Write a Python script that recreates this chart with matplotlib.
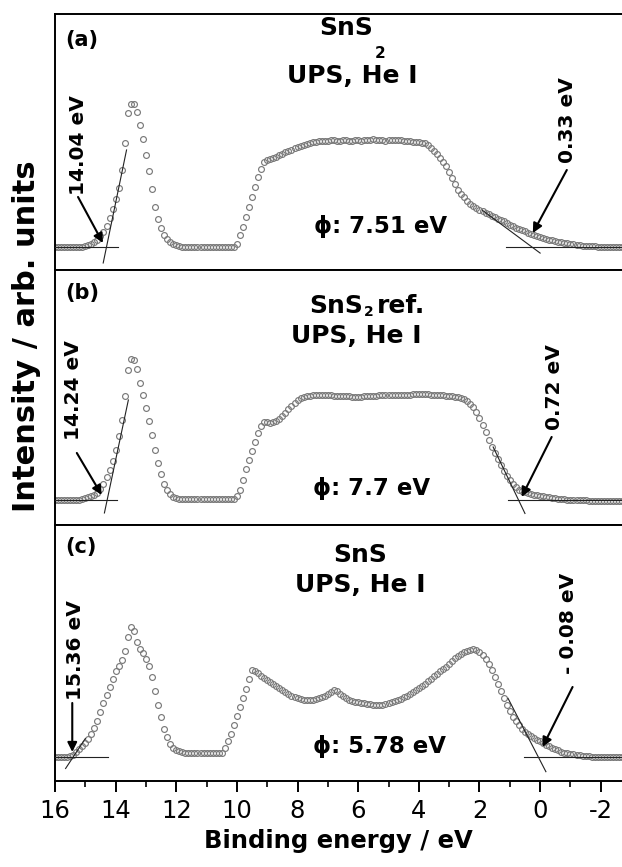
import matplotlib
matplotlib.use('Agg')
import matplotlib.pyplot as plt
import numpy as np

plt.rcParams['font.family'] = ['DejaVu Sans']

# binding energy grid (eV), 0.1 eV steps from 16.0 down to -2.7
energy = np.arange(160, -28, -1) / 10.0

# (a) SnS2
int_a = [0, 0, 0, 0, 0, 0, 0, 0, 0, 0,
         1, 1.5, 2.5, 4.5, 6.5, 10.5, 15, 21, 29, 38,
         48, 59, 77, 104, 134, 143, 143, 135, 122, 108,
         92, 76, 58, 40, 28, 19, 12, 8, 5, 3,
         1.5, 0.5, 0, 0, 0, 0, 0, 0, 0, 0,
         0, 0, 0, 0, 0, 0, 0, 0, 0, 0,
         3, 12, 20, 30, 40, 50, 60, 70, 78, 85,
         87, 88, 89, 90, 92, 93, 95, 96, 97, 99,
         100, 101, 102, 103, 104, 105, 105, 106, 106, 106,
         106, 107, 107, 106, 106, 107, 107, 106, 106, 107,
         107, 106, 107, 107, 107, 108, 107, 107, 107, 106,
         107, 107, 107, 107, 107, 106, 106, 106, 105, 105,
         105, 104, 104, 102, 99, 96, 93, 89, 85, 81,
         75, 69, 63, 57, 53, 50, 46, 43, 41, 39,
         37, 35.5, 34, 32.5, 31, 29.5, 28, 27, 25.5, 24,
         22, 20.5, 19, 17.5, 16.5, 15.5, 14, 13, 12, 11,
         10, 9, 8, 7, 6.5, 6, 5, 4.5, 4, 3.5,
         3, 2.5, 2, 1.5, 1, 1, 0.5, 0.5, 0.5, 0,
         0, 0, 0, 0, 0, 0, 0, 0]

# (b) SnS2 ref.
int_b = [0, 0, 0, 0, 0, 0, 0, 0, 0, 1,
         1.5, 2.5, 3.5, 5, 7, 10.5, 16, 23, 30, 39,
         50, 64, 80, 104, 130, 141, 140, 131, 117, 105,
         92, 79, 65, 50, 37, 26, 16, 9.5, 6, 3,
         2, 1, 0.5, 0.5, 0.5, 0.5, 0.5, 0.5, 0.5, 0.5,
         0.5, 0.5, 0.5, 0.5, 0.5, 0.5, 0.5, 0.5, 0.5, 0.5,
         4, 10, 20, 31, 40, 49, 58, 67, 74, 78,
         78, 77, 78, 79, 81, 84, 87, 91, 94, 97,
         100, 102, 103, 104, 104, 105, 105, 105, 105, 105,
         105, 105, 104, 104, 104, 104, 104, 104, 103, 103,
         103, 103, 104, 104, 104, 104, 104, 105, 105, 105,
         105, 105, 105, 105, 105, 105, 105, 105, 106, 106,
         106, 106, 106, 106, 105, 105, 105, 105, 105, 104,
         104, 104, 103, 103, 102, 101, 99, 96, 93, 88,
         82, 75, 68, 60, 53, 47, 41, 35, 29, 24,
         20, 16, 13, 10, 8.5, 7.5, 6.5, 5.5, 5, 4.5,
         4, 3.5, 3, 2.5, 2, 1.5, 1, 1, 0.5, 0,
         0, 0, -0.5, -0.5, -0.5, -0.5, -1, -1, -1, -1,
         -1.5, -1.5, -1.5, -1.5, -1.5, -1.5, -1.5, -1.5]

# (c) SnS
int_c = [0, 0, 0, 0, 0, 0.5, 2, 5, 8, 11,
         14, 18, 23, 29, 36, 45, 54, 62, 70, 78,
         86, 91, 97, 106, 120, 130, 126, 115, 108, 104,
         98, 91, 80, 66, 52, 40, 28, 20, 13, 9,
         7, 5.5, 4.5, 4, 4, 4, 4, 4, 4, 4,
         4, 4, 4, 4, 4, 4, 9, 16, 23, 32,
         41, 50, 59, 68, 78, 87, 86, 84, 81, 79,
         77, 75, 73, 71, 69, 67, 65, 63, 61, 60,
         59, 58, 57, 57, 57, 57, 58, 59, 60, 61,
         63, 65, 67, 66, 63, 61, 59, 57, 56, 55,
         55, 54, 54, 53, 53, 52, 52, 52, 52, 53,
         54, 55, 56, 57, 58, 60, 61, 63, 65, 67,
         69, 71, 73, 76, 78, 81, 83, 86, 88, 90,
         93, 96, 99, 101, 103, 105, 106, 107, 108, 107,
         105, 102, 98, 93, 87, 80, 73, 66, 59, 52,
         46, 40, 36, 32, 28, 25, 23, 21, 19, 17,
         15.5, 13.5, 12, 10.5, 9, 7.5, 6.5, 5, 4, 3.5,
         3, 2.5, 2, 1.5, 1, 0.5, 0.5, 0, 0, 0,
         0, 0, 0, 0, 0, 0, 0, 0]

# linear fits used for the cut-off / onset (E pairs, I pairs)
fits_a = [([16.0, 13.92], [0, 0]), ([14.41, 13.64], [-16, 97]),
          ([1.11, -2.7], [0, 0]), ([1.9, 0.0], [36.6, -6.1])]
fits_b = [([16.0, 13.97], [0, 0]), ([14.37, 13.58], [-13, 100]),
          ([1.07, -2.7], [0, 0]), ([1.55, 0.5], [53, -13.5])]
fits_c = [([16.0, 14.25], [0, 0]), ([15.65, 15.0], [-11.5, 18.4]),
          ([0.54, -2.7], [0, 0]), ([1.06, -0.19], [58.7, -14.7])]

# edge values: label, label position, arrow start, arrow tip
edges_a = [('14.04 eV', (15.24, 102), (15.24, 50), (14.42, 4)),
           ('0.33 eV', (-0.91, 127), (-0.88, 77), (0.24, 14))]
edges_b = [('14.24 eV', (15.40, 110), (15.28, 47), (14.46, 5)),
           ('0.72 eV', (-0.49, 113), (-0.38, 63), (0.61, 3))]
edges_c = [('15.36 eV', (15.32, 107), (15.43, 54), (15.43, 5)),
           ('- 0.08 eV', (-0.95, 134), (-1.07, 70), (-0.08, 10))]

panel_tags = ['(a)', '(b)', '(c)']
work_fn = ['\u03d5: 7.51 eV', '\u03d5: 7.7 eV', '\u03d5: 5.78 eV']

fig = plt.figure(figsize=(6.22, 8.67), dpi=100)

rects = [[0.0884, 0.6886, 0.9116, 0.2953],
         [0.0884, 0.3945, 0.9116, 0.2941],
         [0.0884, 0.0992, 0.9116, 0.2953]]
ylims = [(-23, 233), (-25, 230), (-24, 232)]
tag_y = [0.898, 0.91, 0.914]
phi_xy = [(0.575, 0.145), (0.559, 0.118), (0.573, 0.109)]

panels = [(int_a, fits_a, edges_a), (int_b, fits_b, edges_b), (int_c, fits_c, edges_c)]
axes = []
for i, (vals, fits, edges) in enumerate(panels):
    ax = fig.add_axes(rects[i])
    axes.append(ax)
    ax.plot(energy, vals, 'o', mfc='none', mec='#7a7a7a', mew=0.85, ms=4.2, zorder=2)
    for ex, iy in fits:
        ax.plot(ex, iy, color='#222222', lw=0.8, zorder=3)
    for txt, pos, start, tip in edges:
        ax.text(pos[0], pos[1], txt, rotation=90, ha='center', va='center',
                fontsize=14.5, fontweight='bold')
        ax.annotate('', xy=tip, xytext=start,
                    arrowprops=dict(arrowstyle='-|>', color='black', lw=1.5,
                                    mutation_scale=14, shrinkA=0, shrinkB=0))
    ax.set_xlim(16, -2.7)
    ax.set_ylim(*ylims[i])
    ax.set_yticks([])
    for s in ['top', 'bottom', 'left']:
        ax.spines[s].set_linewidth(1.4)
    ax.spines['right'].set_visible(False)
    ax.text(0.018, tag_y[i], panel_tags[i], transform=ax.transAxes,
            ha='left', va='center', fontsize=15, fontweight='bold')
    ax.text(phi_xy[i][0], phi_xy[i][1], work_fn[i], transform=ax.transAxes,
            ha='center', va='baseline', fontsize=16.5, fontweight='bold')
    if i < 2:
        ax.set_xticks([])

# sample names
ax_a, ax_b, ax_c = axes
ax_a.text(0.561, 0.918, 'SnS', transform=ax_a.transAxes, ha='right', va='baseline',
          fontsize=18, fontweight='bold')
ax_a.text(0.573, 0.844, '2', transform=ax_a.transAxes, ha='center', va='center',
          fontsize=11, fontweight='bold')
ax_a.text(0.524, 0.730, 'UPS, He I', transform=ax_a.transAxes, ha='center', va='baseline',
          fontsize=18, fontweight='bold')

ax_b.text(0.543, 0.831, 'SnS', transform=ax_b.transAxes, ha='right', va='baseline',
          fontsize=18, fontweight='bold')
ax_b.text(0.553, 0.834, '2', transform=ax_b.transAxes, ha='center', va='center',
          fontsize=10, fontweight='bold')
ax_b.text(0.568, 0.831, 'ref.', transform=ax_b.transAxes, ha='left', va='baseline',
          fontsize=18, fontweight='bold')
ax_b.text(0.531, 0.712, 'UPS, He I', transform=ax_b.transAxes, ha='center', va='baseline',
          fontsize=18, fontweight='bold')

ax_c.text(0.538, 0.855, 'SnS', transform=ax_c.transAxes, ha='center', va='baseline',
          fontsize=18, fontweight='bold')
ax_c.text(0.538, 0.738, 'UPS, He I', transform=ax_c.transAxes, ha='center', va='baseline',
          fontsize=18, fontweight='bold')

# x axis of bottom panel
ax_c.set_xticks(np.arange(16, -3, -2))
ax_c.set_xticklabels(['16', '14', '12', '10', '8', '6', '4', '2', '0', '-2'])
ax_c.set_xticks(np.arange(15, -3, -2), minor=True)
ax_c.tick_params(axis='x', which='major', direction='out', length=8, width=1.4,
                 labelsize=17.5, pad=5)
ax_c.tick_params(axis='x', which='minor', direction='out', length=4.5, width=1.2)
ax_c.set_xlabel('Binding energy / eV', fontsize=17.5, fontweight='bold', labelpad=4)

fig.text(0.042, 0.6125, 'Intensity / arb. units', rotation=90, ha='center', va='center',
         fontsize=22, fontweight='bold')

fig.savefig('out.png', dpi=100)
